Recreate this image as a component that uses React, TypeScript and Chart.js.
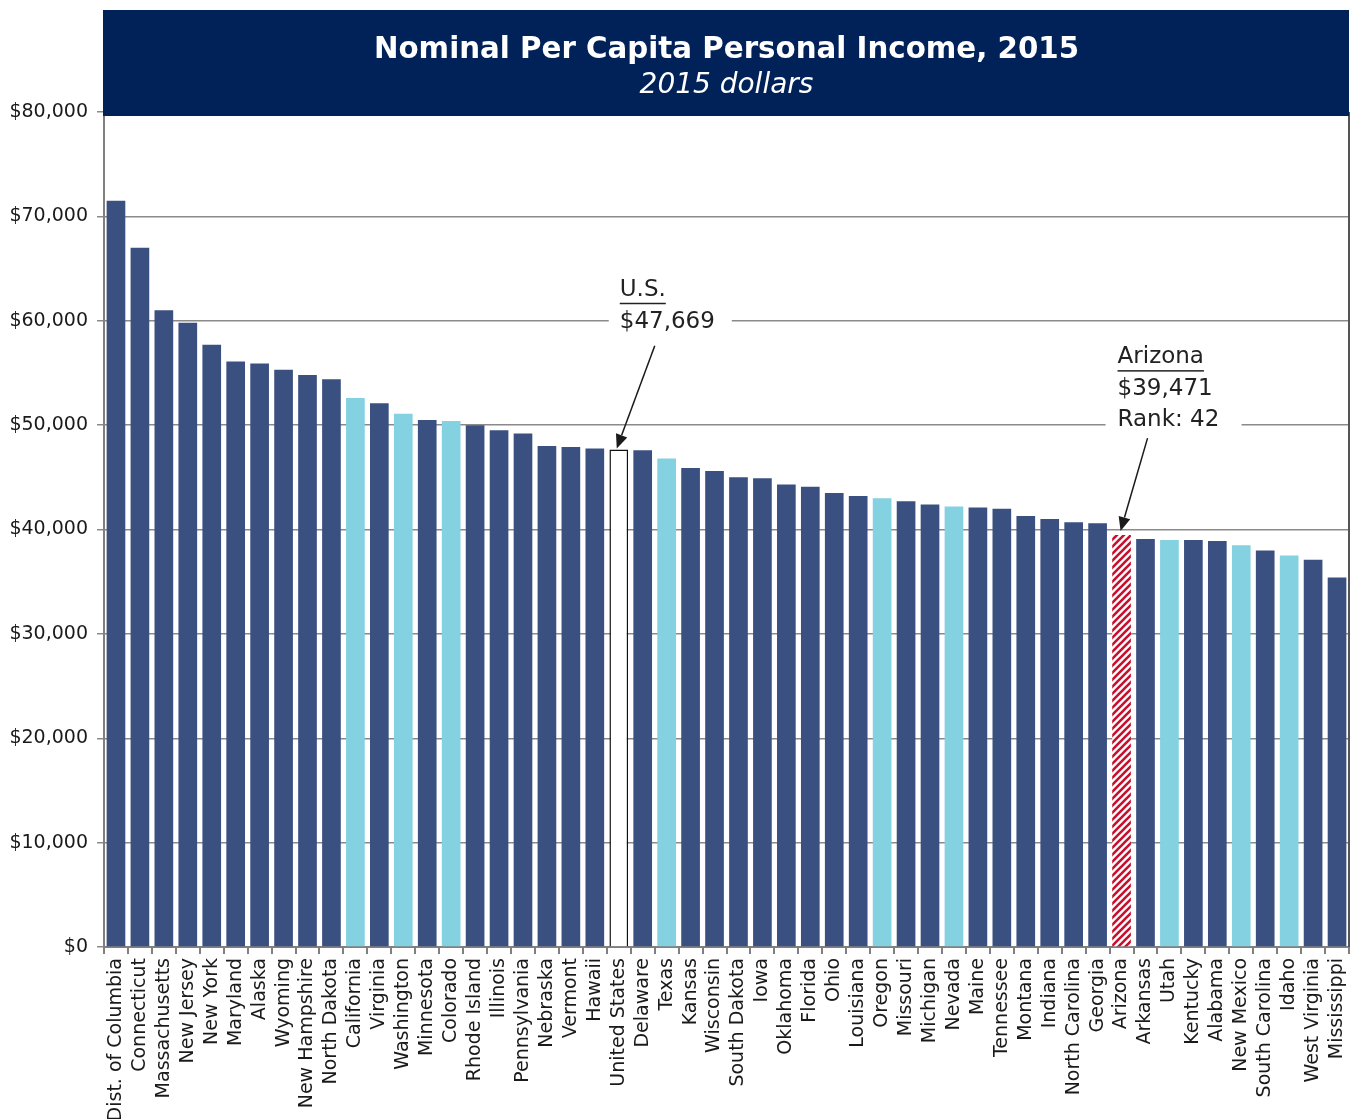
import React, { useEffect, useRef } from "react";
import { Chart, registerables } from "chart.js";

Chart.register(...registerables);

const states = [
  "Dist. of Columbia", "Connecticut", "Massachusetts", "New Jersey", "New York", "Maryland",
  "Alaska", "Wyoming", "New Hampshire", "North Dakota", "California", "Virginia", "Washington",
  "Minnesota", "Colorado", "Rhode Island", "Illinois", "Pennsylvania", "Nebraska", "Vermont",
  "Hawaii", "United States", "Delaware", "Texas", "Kansas", "Wisconsin", "South Dakota", "Iowa",
  "Oklahoma", "Florida", "Ohio", "Louisiana", "Oregon", "Missouri", "Michigan", "Nevada", "Maine",
  "Tennessee", "Montana", "Indiana", "North Carolina", "Georgia", "Arizona", "Arkansas", "Utah",
  "Kentucky", "Alabama", "New Mexico", "South Carolina", "Idaho", "West Virginia", "Mississippi",
];

const incomes = [
  71500, 67000, 61000, 59800, 57700, 56100,
  55900, 55300, 54800, 54400, 52600, 52100, 51100,
  50500, 50400, 50000, 49500, 49200, 48000, 47900,
  47750, 47669, 47600, 46800, 45900, 45600, 45000, 44900,
  44300, 44100, 43500, 43200, 43000, 42700, 42400, 42200, 42100,
  42000, 41300, 41000, 40700, 40600, 39471, 39100, 39000,
  39000, 38900, 38500, 38000, 37500, 37100, 35400,
];

const westernStates = [
  "California", "Washington", "Colorado", "Texas", "Oregon", "Nevada", "Utah", "New Mexico", "Idaho",
];
const usState = "United States";
const azState = "Arizona";

const yTickValues = [0, 10000, 20000, 30000, 40000, 50000, 60000, 70000, 80000];
const titleText = "Nominal Per Capita Personal Income, 2015";
const subtitleText = "2015 dollars";
const usNote = ["U.S.", "$47,669"];
const azNote = ["Arizona", "$39,471", "Rank: 42"];

const NAVY = "#3A5081";
const LIGHT = "#83D1E1";
const TITLE_BG = "#012258";
const TEXT = "#222222";
const FONT = "'DejaVu Sans', Verdana, sans-serif";

function makeHatch(): CanvasPattern | string {
  const c = document.createElement("canvas");
  c.width = 7;
  c.height = 7;
  const g = c.getContext("2d");
  if (!g) return "#C8102E";
  g.fillStyle = "#ffffff";
  g.fillRect(0, 0, 7, 7);
  g.strokeStyle = "#C8102E";
  g.lineWidth = 2.6;
  g.beginPath();
  g.moveTo(-1, 8);
  g.lineTo(8, -1);
  g.moveTo(-5, 5);
  g.lineTo(5, -5);
  g.moveTo(2, 12);
  g.lineTo(12, 2);
  g.stroke();
  return g.createPattern(c, "repeat") || "#C8102E";
}

function drawArrow(ctx: CanvasRenderingContext2D, x1: number, y1: number, x2: number, y2: number) {
  const ang = Math.atan2(y2 - y1, x2 - x1);
  const head = 14;
  const hw = 6;
  const bx = x2 - head * Math.cos(ang);
  const by = y2 - head * Math.sin(ang);
  ctx.save();
  ctx.strokeStyle = "#1a1a1a";
  ctx.fillStyle = "#1a1a1a";
  ctx.lineWidth = 1.5;
  ctx.beginPath();
  ctx.moveTo(x1, y1);
  ctx.lineTo(bx, by);
  ctx.stroke();
  ctx.beginPath();
  ctx.moveTo(x2, y2);
  ctx.lineTo(bx + hw * Math.sin(ang), by - hw * Math.cos(ang));
  ctx.lineTo(bx - hw * Math.sin(ang), by + hw * Math.cos(ang));
  ctx.closePath();
  ctx.fill();
  ctx.restore();
}

function drawNote(
  ctx: CanvasRenderingContext2D,
  lines: string[],
  left: number,
  lastCenterY: number,
  lineH: number,
  bgLeft: number,
  bgRight: number
) {
  ctx.save();
  ctx.font = `23px ${FONT}`;
  const n = lines.length;
  const top = lastCenterY - (n - 1) * lineH - lineH / 2;
  ctx.fillStyle = "#ffffff";
  ctx.fillRect(bgLeft, lastCenterY - lineH / 2, bgRight - bgLeft, lineH);
  ctx.fillStyle = TEXT;
  ctx.textBaseline = "middle";
  ctx.textAlign = "left";
  lines.forEach((t, i) => {
    const cy = top + lineH / 2 + i * lineH;
    ctx.fillText(t, left, cy);
    if (i === 0) {
      const w = ctx.measureText(t).width;
      ctx.fillRect(left, cy + 13, w, 1.5);
    }
  });
  ctx.restore();
}

const decorPlugin = {
  id: "decor",
  afterDraw(chart: any) {
    const { ctx, chartArea, scales } = chart;
    const x = scales.x;
    const y = scales.y;
    ctx.save();
    // right border
    ctx.strokeStyle = "#555555";
    ctx.lineWidth = 2;
    ctx.beginPath();
    ctx.moveTo(chartArea.right, chartArea.top);
    ctx.lineTo(chartArea.right, chartArea.bottom);
    ctx.stroke();
    // title box
    ctx.fillStyle = TITLE_BG;
    ctx.fillRect(chartArea.left - 1, 10, chartArea.right - chartArea.left + 1, chartArea.top + 4 - 10);
    const cx = (chartArea.left + chartArea.right) / 2;
    ctx.fillStyle = "#ffffff";
    ctx.textAlign = "center";
    ctx.textBaseline = "middle";
    ctx.font = `bold 29.3px ${FONT}`;
    ctx.fillText(titleText, cx, 50);
    ctx.font = `italic 28px ${FONT}`;
    ctx.fillText(subtitleText, cx, 86);
    ctx.restore();

    // U.S. annotation
    const usIdx = states.indexOf(usState);
    const usX = x.getPixelForValue(usIdx);
    const usTop = y.getPixelForValue(incomes[usIdx]);
    const usLine = y.getPixelForValue(60000);
    drawNote(ctx, usNote, usX + 1, usLine + 1, 32, usX - 10, usX + 113);
    drawArrow(ctx, usX + 36, usLine + 25, usX - 2, usTop - 1);

    // Arizona annotation
    const azIdx = states.indexOf(azState);
    const azX = x.getPixelForValue(azIdx);
    const azTop = y.getPixelForValue(incomes[azIdx]);
    const azLine = y.getPixelForValue(50000);
    drawNote(ctx, azNote, azX - 4, azLine - 5, 31.5, azX - 16, azX + 120);
    drawArrow(ctx, azX + 26, azLine + 13, azX - 1, azTop - 4);
  },
};

export default function App() {
  const ref = useRef<HTMLCanvasElement | null>(null);

  useEffect(() => {
    if (!ref.current) return;
    const hatch = makeHatch();
    const bg = states.map((s) =>
      s === usState ? "#ffffff" : s === azState ? hatch : westernStates.includes(s) ? LIGHT : NAVY
    );
    const bc = states.map((s) => (s === usState ? "#111111" : "rgba(0,0,0,0)"));
    const bw = states.map((s) => (s === usState ? 1.5 : 0));

    const chart = new Chart(ref.current, {
      type: "bar",
      data: {
        labels: states,
        datasets: [
          {
            data: incomes,
            backgroundColor: bg as any,
            borderColor: bc,
            borderWidth: bw,
            barPercentage: 0.78,
            categoryPercentage: 1,
          },
        ],
      },
      options: {
        responsive: false,
        animation: false,
        layout: { padding: { top: 112, right: 2, left: 0, bottom: 0 } },
        plugins: {
          legend: { display: false },
          tooltip: { enabled: false },
          title: { display: false },
        },
        scales: {
          x: {
            grid: {
              display: true,
              drawOnChartArea: false,
              drawTicks: true,
              tickLength: 7,
              color: "#808080",
              lineWidth: 2,
              offset: true,
            },
            border: { color: "#808080", width: 2 },
            ticks: {
              autoSkip: false,
              minRotation: 90,
              maxRotation: 90,
              padding: 4,
              color: "#1a1a1a",
              font: { family: FONT, size: 19 },
            },
            afterFit: (s: any) => {
              s.height = 172;
              s.paddingLeft = 0;
              s.paddingRight = 0;
            },
          },
          y: {
            min: 0,
            max: 80000,
            afterBuildTicks: (s: any) => {
              s.ticks = yTickValues.map((v) => ({ value: v }));
            },
            grid: {
              color: "#8a8a8a",
              lineWidth: 1.5,
              tickLength: 7,
              drawTicks: true,
            },
            border: { color: "#808080", width: 2 },
            ticks: {
              padding: 9,
              color: "#1a1a1a",
              font: { family: FONT, size: 19 },
              callback: (v: any) => "$" + Number(v).toLocaleString("en-US"),
            },
            afterFit: (s: any) => {
              s.width = 104;
            },
          },
        },
      },
      plugins: [decorPlugin],
    });
    return () => chart.destroy();
  }, []);

  return (
    <div style={{ position: "absolute", left: 0, top: 0, width: 1351, height: 1119, background: "#fff" }}>
      <canvas ref={ref} width={1351} height={1119} style={{ display: "block", width: 1351, height: 1119 }} />
    </div>
  );
}
